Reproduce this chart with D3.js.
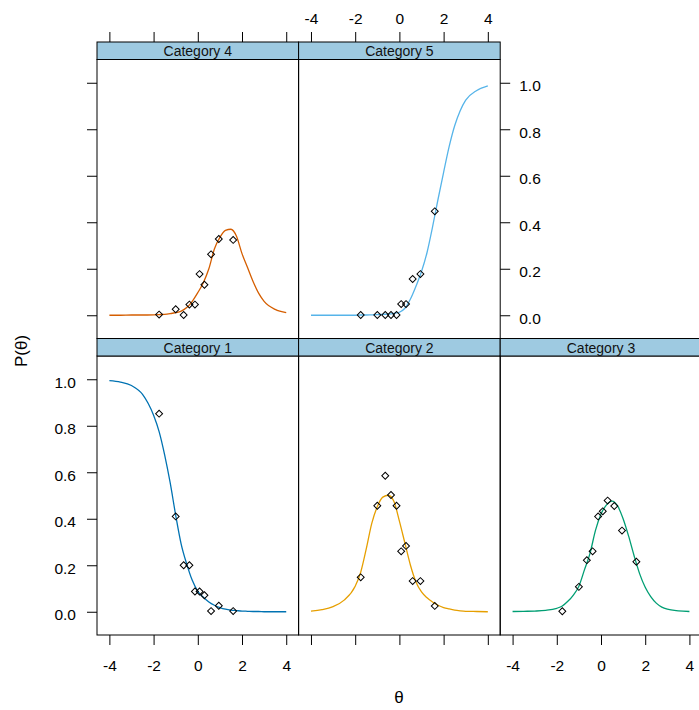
<!DOCTYPE html>
<html><head><meta charset="utf-8">
<script src="https://cdn.jsdelivr.net/npm/d3@7"></script>
<style>
html,body{margin:0;padding:0;background:#fff;}
svg{display:block;font-family:"Liberation Sans",Arial,sans-serif;}
</style></head>
<body><svg id="chart" width="699" height="710"></svg>
<script>
// ---- data ----
const categories = ["Category 1","Category 2","Category 3","Category 4","Category 5"];
const colors = ["#0072B2","#E69F00","#009E73","#D55E00","#56B4E9"];
const theta = [-4,-3.5,-3,-2.5,-2,-1.75,-1.5,-1.25,-1,-0.75,-0.5,-0.25,0,0.25,0.5,0.75,1,1.25,1.5,1.75,2,2.25,2.5,2.75,3,3.5,4];
const curve1 = [0.994,0.988,0.973,0.935,0.845,0.775,0.675,0.555,0.415,0.29,0.205,0.135,0.088,0.062,0.042,0.028,0.018,0.011,0.007,0.005,0.003,0.002,0.001,0.001,0,0,0];
const curve2 = [0.003,0.009,0.022,0.05,0.11,0.17,0.27,0.38,0.452,0.493,0.501,0.475,0.39,0.295,0.2,0.128,0.085,0.06,0.042,0.028,0.018,0.012,0.007,0.004,0.002,0.001,0];
const curve3 = [0.001,0.002,0.003,0.006,0.015,0.025,0.045,0.072,0.11,0.18,0.25,0.35,0.42,0.46,0.476,0.455,0.4,0.325,0.24,0.163,0.105,0.065,0.037,0.02,0.011,0.004,0.001];
const curve4 = [0,0,0.001,0.001,0.002,0.003,0.004,0.007,0.011,0.018,0.033,0.06,0.097,0.14,0.2,0.285,0.335,0.365,0.37,0.34,0.265,0.205,0.145,0.095,0.06,0.025,0.011];
const curve5 = [0,0,0,0,0,0.001,0.001,0.002,0.003,0.004,0.005,0.008,0.013,0.03,0.07,0.125,0.188,0.27,0.38,0.5,0.615,0.725,0.815,0.88,0.925,0.967,0.987];
const obsTheta = [-1.75,-1.0,-0.64,-0.38,-0.13,0.08,0.3,0.6,0.95,1.6];
const obs1 = [0.852,0.41,0.2,0.2,0.087,0.087,0.071,0.003,0.026,0.003];
const obs2 = [0.148,0.456,0.585,0.502,0.456,0.26,0.283,0.132,0.132,0.025];
const obs3 = [0.002,0.107,0.222,0.26,0.41,0.432,0.478,0.455,0.349,0.215];
const obs4 = [0.003,0.026,0.001,0.046,0.046,0.177,0.131,0.262,0.328,0.324];
const obs5 = [0.001,0.001,0.001,0.001,0.001,0.048,0.048,0.156,0.177,0.447];
const xTicks = [-4,-2,0,2,4];
const yTicks = [0,0.2,0.4,0.6,0.8,1.0];
const xLabel = "θ";
const yLabel = "P(θ)";

// ---- layout ----
const svg = d3.select("#chart");
const L = 97, PW = 201.6, stripH = 17.5, PH = 279;
const rowTop = [42, 338.5];
const curves = [curve1,curve2,curve3,curve4,curve5];
const obs = [obs1,obs2,obs3,obs4,obs5];
const placement = [[1,0],[1,1],[1,2],[0,0],[0,1]]; // [row,col]
const fontTick = "15.5px";

const panels = categories.map((name,i)=>{
  const [row,col] = placement[i];
  const x0 = L + col*PW, st = rowTop[row], pt = st + stripH;
  const x = d3.scaleLinear().domain([-4.56,4.56]).range([x0, x0+PW]);
  const y = d3.scaleLinear().domain([-0.1,1.1]).range([pt+PH, pt]);
  return {name,i,row,col,x0,st,pt,x,y};
});

const defs = svg.append("defs");
panels.forEach(p=>{
  defs.append("clipPath").attr("id","clip"+p.i).append("rect")
    .attr("x",p.x0).attr("y",p.pt).attr("width",PW).attr("height",PH);
});

const line = d3.line().curve(d3.curveMonotoneX);
const diamond = d3.symbol().type(d3.symbolSquare).size(24);

panels.forEach(p=>{
  const g = svg.append("g");
  g.append("path")
    .attr("clip-path","url(#clip"+p.i+")")
    .attr("d", line.x((d,j)=>p.x(theta[j])).y(d=>p.y(d))(curves[p.i]))
    .attr("fill","none").attr("stroke",colors[p.i]).attr("stroke-width",1.3);
  g.selectAll("path.pt").data(obs[p.i]).enter().append("path").attr("class","pt")
    .attr("d",diamond)
    .attr("transform",(d,j)=>`translate(${p.x(obsTheta[j])},${p.y(d)}) rotate(45)`)
    .attr("fill","none").attr("stroke","#000").attr("stroke-width",1);
  g.append("rect").attr("x",p.x0).attr("y",p.pt).attr("width",PW).attr("height",PH)
    .attr("fill","none").attr("stroke","#000").attr("stroke-width",1);
  g.append("rect").attr("x",p.x0).attr("y",p.st).attr("width",PW).attr("height",stripH)
    .attr("fill","#9ecae1").attr("stroke","#000").attr("stroke-width",1);
  g.append("text").attr("x",p.x0+PW/2).attr("y",p.st+stripH-3.5)
    .attr("text-anchor","middle").attr("font-size","14px").attr("fill","#111").text(p.name);
});

function styleAxis(sel, labels, dyv){
  sel.select(".domain").remove();
  sel.selectAll(".tick line").attr("stroke","#000");
  sel.selectAll(".tick text").attr("font-size",fontTick).attr("font-family","'Liberation Sans',Arial,sans-serif").attr("fill","#000");
  if(dyv!==undefined) sel.selectAll(".tick text").attr("dy",dyv);
  if(!labels) sel.selectAll(".tick text").remove();
}
const P = name => panels[categories.indexOf(name)];
const fmtX = d => String(d);
const fmtY = d => d.toFixed(1);

[["Category 1",true],["Category 4",false]].forEach(([n,lab])=>{
  const p = P(n);
  const g = svg.append("g").attr("transform",`translate(${p.x0},0)`)
    .call(d3.axisLeft(p.y).tickValues(yTicks).tickSize(10).tickPadding(11).tickFormat(fmtY));
  styleAxis(g, lab, "0.52em");
});
{
  const p = P("Category 5");
  const g = svg.append("g").attr("transform",`translate(${p.x0+PW},0)`)
    .call(d3.axisRight(p.y).tickValues(yTicks).tickSize(10).tickPadding(9).tickFormat(fmtY));
  styleAxis(g, true, "0.52em");
}
[["Category 4",false],["Category 5",true]].forEach(([n,lab])=>{
  const p = P(n);
  const g = svg.append("g").attr("transform",`translate(0,${p.st})`)
    .call(d3.axisTop(p.x).tickValues(xTicks).tickSize(10).tickPadding(8).tickFormat(fmtX));
  styleAxis(g, lab);
});
[["Category 1",true],["Category 2",false],["Category 3",true]].forEach(([n,lab])=>{
  const p = P(n);
  const g = svg.append("g").attr("transform",`translate(0,${p.pt+PH})`)
    .call(d3.axisBottom(p.x).tickValues(xTicks).tickSize(10).tickPadding(15).tickFormat(fmtX));
  styleAxis(g, lab);
});

svg.append("text").attr("x",399).attr("y",703).attr("text-anchor","middle")
  .attr("font-size","17px").attr("fill","#000").text(xLabel);
svg.append("text").attr("transform","translate(27,351) rotate(-90)").attr("text-anchor","middle")
  .attr("font-size","17px").attr("fill","#000").text(yLabel);
</script>
</body></html>
